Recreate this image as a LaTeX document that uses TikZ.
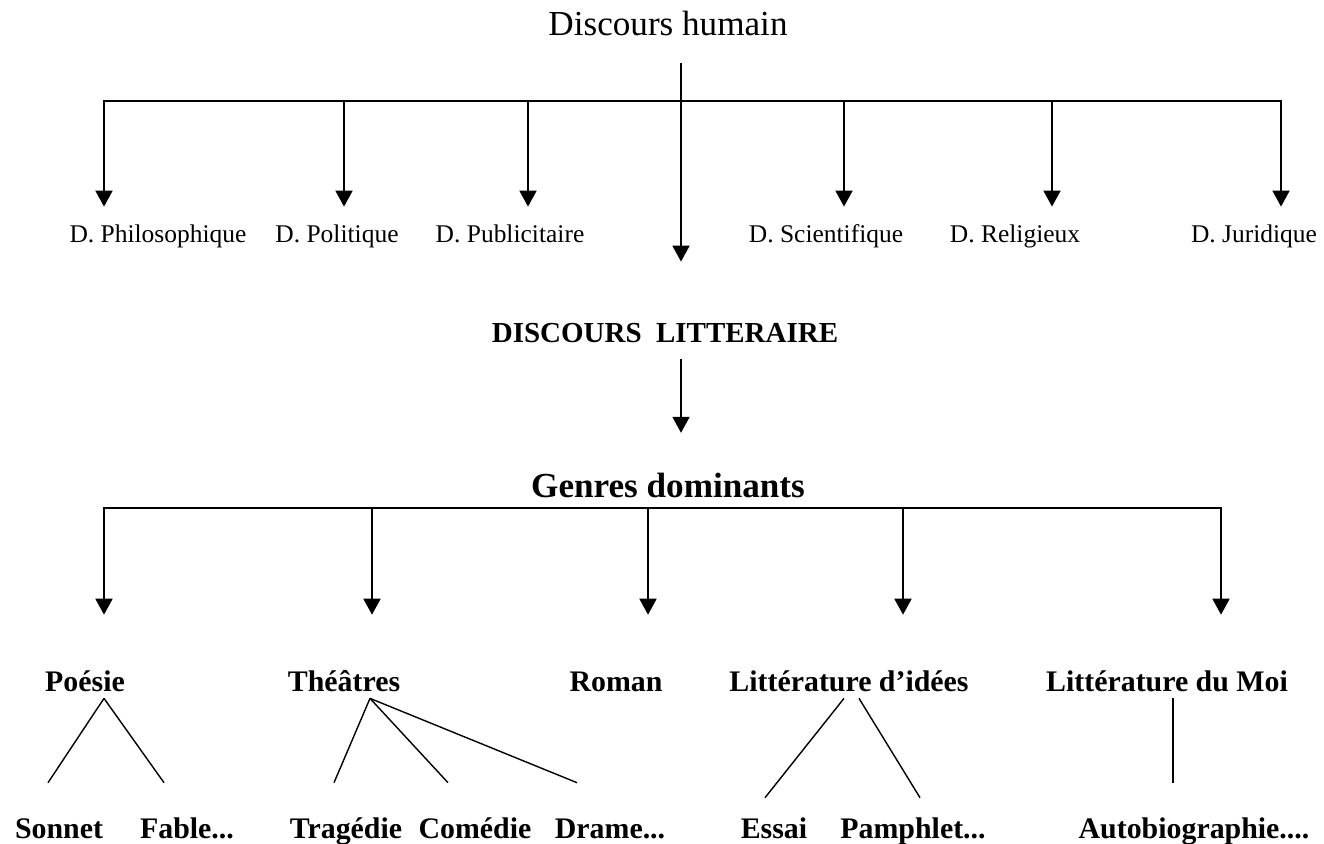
\documentclass[tikz,border=0pt]{standalone}
\usepackage{fontspec}
\setmainfont{Liberation Serif}[BoldFont={Liberation Serif Bold}, ItalicFont={Liberation Serif Italic}]
\usetikzlibrary{arrows.meta, calc}

\begin{document}
\begin{tikzpicture}[
  x=0.02cm, y=-0.02cm,
  >={Triangle[length=3.2mm, width=3.4mm]},
  top/.style={inner sep=0pt, anchor=base, font=\fontsize{20}{24}\selectfont, text height=14pt, text depth=4pt},
  disc/.style={inner sep=0pt, anchor=base, font=\fontsize{14.5}{17}\selectfont, text height=10pt, text depth=3pt},
  lit/.style={inner sep=0pt, anchor=base, font=\bfseries\fontsize{16.5}{20}\selectfont, text height=12pt, text depth=3pt},
  genre/.style={inner sep=0pt, anchor=base, font=\bfseries\fontsize{20}{24}\selectfont, text height=15pt, text depth=4pt},
  leaf/.style={inner sep=0pt, anchor=base, font=\bfseries\fontsize{17}{20}\selectfont, text height=12.5pt, text depth=4pt},
  arr/.style={->, line width=1.1pt},
  twig/.style={line width=0.8pt}
]
\useasboundingbox (0,0) rectangle (1324,844);

% bus points
\coordinate (hub) at (681,101);
\coordinate (b1) at (104,101);
\coordinate (b2) at (344,101);
\coordinate (b3) at (528,101);
\coordinate (b4) at (844,101);
\coordinate (b5) at (1052,101);
\coordinate (b6) at (1281,101);
\coordinate (g1) at (104,508);
\coordinate (g2) at (372,508);
\coordinate (g3) at (648,508);
\coordinate (g4) at (903,508);
\coordinate (g5) at (1221,508);

% top level
\node[top] (title) at (668,36) {Discours humain};
\node[disc] (philo) at (158,243) {D. Philosophique};
\node[disc] (politi) at (337,243) {D. Politique};
\node[disc] (publi) at (510,243) {D. Publicitaire};
\node[disc] (scienti) at (826,243) {D. Scientifique};
\node[disc] (religi) at (1015,243) {D. Religieux};
\node[disc] (juri) at (1254,243) {D. Juridique};
\node[lit] (litt) at (665,342) {DISCOURS\ \ LITTERAIRE};
\node[genre] (genres) at (668,497) {Genres dominants};

\draw[arr, shorten <=0.4cm, shorten >=1.18cm] (title.south -| hub) -- (litt.north -| hub);
\draw[arr, <->, shorten <=0.37cm, shorten >=0.37cm] (philo.north -| b1) -- (b1) -- (b6) -- (juri.north -| b6);
\draw[arr, shorten >=0.37cm] (b2) -- (politi.north -| b2);
\draw[arr, shorten >=0.37cm] (b3) -- (publi.north -| b3);
\draw[arr, shorten >=0.37cm] (b4) -- (scienti.north -| b4);
\draw[arr, shorten >=0.37cm] (b5) -- (religi.north -| b5);
\draw[arr, shorten <=0.23cm, shorten >=0.75cm] (litt.south -| hub) -- (genres.north -| hub);

% genres
\node[leaf] (poesie) at (85,691) {Poésie};
\node[leaf] (theatre) at (344,691) {Théâtres};
\node[leaf] (roman) at (616,691) {Roman};
\node[leaf] (idees) at (849,691) {Littérature d'idées};
\node[leaf] (moi) at (1167,691) {Littérature du Moi};

\draw[arr, <->, shorten <=1.08cm, shorten >=1.08cm] (poesie.north -| g1) -- (g1) -- (g5) -- (moi.north -| g5);
\draw[arr, shorten >=1.08cm] (g2) -- (theatre.north -| g2);
\draw[arr, shorten >=1.08cm] (g3) -- (roman.north -| g3);
\draw[arr, shorten >=1.08cm] (g4) -- (idees.north -| g4);

% sub-genres
\node[leaf] (sonnet) at (59,838) {Sonnet};
\node[leaf] (fable) at (187,838) {Fable...};
\node[leaf] (tragedie) at (346,838) {Tragédie};
\node[leaf] (comedie) at (475,838) {Comédie};
\node[leaf] (drame) at (610,838) {Drame...};
\node[leaf] (essai) at (774,838) {Essai};
\node[leaf] (pamphlet) at (913,838) {Pamphlet...};
\node[leaf] (autobio) at (1194,838) {Autobiographie....};

\draw[twig] ($(poesie.south)+(19,0)$) -- ($(sonnet.north)+(-11,-33)$);
\draw[twig] ($(poesie.south)+(19,0)$) -- ($(fable.north)+(-23,-33)$);
\draw[twig] ($(theatre.south)+(26,0)$) -- ($(tragedie.north)+(-12,-33)$);
\draw[twig] ($(theatre.south)+(26,0)$) -- ($(comedie.north)+(-27,-33)$);
\draw[twig] ($(theatre.south)+(26,0)$) -- ($(drame.north)+(-33,-33)$);
\draw[twig] ($(idees.south)+(-5,0)$) -- ($(essai.north)+(-9,-18)$);
\draw[twig] ($(idees.south)+(10,0)$) -- ($(pamphlet.north)+(7,-18)$);
\draw[twig] ($(moi.south)+(6,0)$) -- ($(autobio.north)+(-21,-33)$);
\end{tikzpicture}
\end{document}
